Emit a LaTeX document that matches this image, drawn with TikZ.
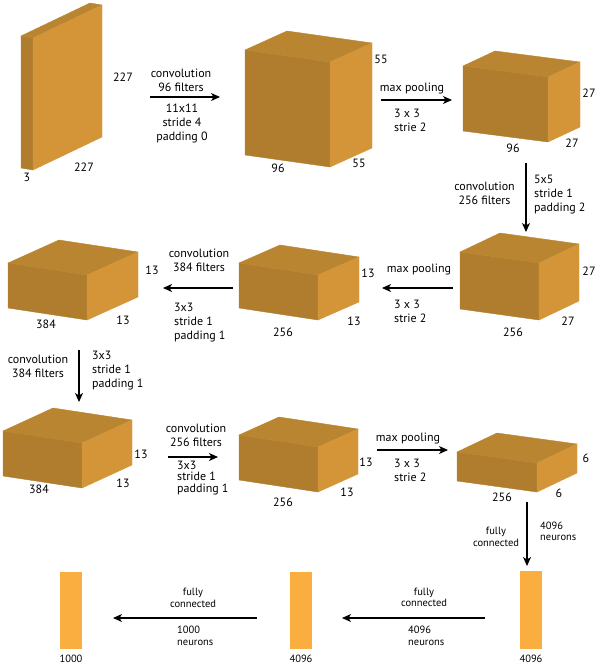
\documentclass[tikz,border=0pt]{standalone}
\usepackage{fontspec}
\setmainfont{PT Sans}
\usetikzlibrary{arrows.meta}

\definecolor{boxfront}{RGB}{176,125,46}
\definecolor{boxtop}{RGB}{185,133,48}
\definecolor{boxside}{RGB}{212,149,57}
\definecolor{fcbar}{RGB}{250,174,64}

\tikzset{
  facefront/.style={fill=boxfront, draw=boxfront, line width=0.4pt},
  facetop/.style={fill=boxtop, draw=boxtop, line width=0.4pt},
  faceside/.style={fill=boxside, draw=boxside, line width=0.4pt},
  fcfill/.style={fill=fcbar},
  lbl/.style={inner sep=0pt, font=\fontsize{12}{14}\selectfont},
  lbltight/.style={inner sep=0pt, font=\fontsize{12}{11.5}\selectfont},
  fclbl/.style={inner sep=0pt, font=\fontsize{10.5}{11.5}\selectfont},
  flow/.style={line width=1.1pt, -{Stealth[length=9pt,width=8pt,inset=2.5pt]}}
}

\begin{document}
\begin{tikzpicture}[x=1pt,y=-1pt]
  \useasboundingbox (0,0) rectangle (600,667);

  %%%%%%%%%%%%%The input%%%%%%%%%%%%%%%%%%%%%%
  \fill[facefront] (21,36) -- ++(12,2) -- ++(0,132) -- ++(-12,-2) -- cycle;
  \fill[facetop] (21,36) -- ++(69,-33) -- ++(12,2) -- ++(-69,33) -- cycle;
  \fill[faceside] (33,38) -- ++(69,-33) -- ++(0,132) -- ++(-69,33) -- cycle;
  \node[lbl] (inh) at (123,77) {227};
  \node[lbl] (inw) at (84,167) {227};
  \node[lbl] (ind) at (27,177) {3};

  \coordinate (conva) at (150,97);
  \coordinate (convb) at (220,97);
  \draw[flow] (conva) -- (convb);
  \node[lbl,align=center] (conv1t) at (181,80.5) {convolution\\96 filters};
  \node[lbl,align=center] (conv1b) at (182,123) {11x11\\stride 4\\padding 0};

  %%%%%%%%%%%%%Conv 1%%%%%%%%%%%%%%%%%%%%%%
  \fill[facefront] (245,50) -- ++(85,12) -- ++(0,105) -- ++(-85,-12) -- cycle;
  \fill[facetop] (245,50) -- ++(42,-19) -- ++(85,12) -- ++(-42,19) -- cycle;
  \fill[faceside] (330,62) -- ++(42,-19) -- ++(0,105) -- ++(-42,19) -- cycle;
  \node[lbl] (c1h) at (381,59) {55};
  \node[lbl] (c1w) at (359,163) {55};
  \node[lbl] (c1d) at (278,168) {96};

  \coordinate (poola) at (381,100);
  \coordinate (poolb) at (452,100);
  \draw[flow] (poola) -- (poolb);
  \node[lbl] (pool1t) at (412,89) {max pooling};
  \node[lbl,align=left,anchor=west] (pool1b) at (394,120) {3 x 3\\strie 2};

  %%%%%%%%%%%%%Pool 1%%%%%%%%%%%%%%%%%%%%%%
  \fill[facefront] (463,66) -- ++(85,11) -- ++(0,65) -- ++(-85,-11) -- cycle;
  \fill[facetop] (463,66) -- ++(32,-15) -- ++(85,11) -- ++(-32,15) -- cycle;
  \fill[faceside] (548,77) -- ++(32,-15) -- ++(0,65) -- ++(-32,15) -- cycle;
  \node[lbl] (p1h) at (589,93) {27};
  \node[lbl] (p1w) at (572,143) {27};
  \node[lbl] (p1d) at (513,148) {96};

  \coordinate (convc) at (526,163);
  \coordinate (convd) at (526,232);
  \draw[flow] (convc) -- (convd);
  \node[lbl,align=center] (conv2l) at (484.5,193) {convolution\\256 filters};
  \node[lbl,align=left,anchor=west] (conv2r) at (534,194.5) {5x5\\stride 1\\padding 2};

  %%%%%%%%%%%%%Conv 2%%%%%%%%%%%%%%%%%%%%%%
  \fill[facefront] (460,252) -- ++(79,11) -- ++(0,57) -- ++(-79,-11) -- cycle;
  \fill[facetop] (460,252) -- ++(40,-19) -- ++(79,11) -- ++(-40,19) -- cycle;
  \fill[faceside] (539,263) -- ++(40,-19) -- ++(0,57) -- ++(-40,19) -- cycle;
  \node[lbl] (c2h) at (589,271) {27};
  \node[lbl] (c2w) at (568,321) {27};
  \node[lbl] (c2d) at (513,332) {256};

  \coordinate (poolc) at (453,288);
  \coordinate (poold) at (382,288);
  \draw[flow] (poolc) -- (poold);
  \node[lbl] (pool2t) at (419,270) {max pooling};
  \node[lbl,align=left,anchor=west] (pool2b) at (394,311) {3 x 3\\strie 2};

  %%%%%%%%%%%%%Pool 2%%%%%%%%%%%%%%%%%%%%%%
  \fill[facefront] (239,263) -- ++(79,12) -- ++(0,45) -- ++(-79,-12) -- cycle;
  \fill[facetop] (239,263) -- ++(41,-18) -- ++(79,12) -- ++(-41,18) -- cycle;
  \fill[faceside] (318,275) -- ++(41,-18) -- ++(0,45) -- ++(-41,18) -- cycle;
  \node[lbl] (p2h) at (368,273) {13};
  \node[lbl] (p2w) at (354,321) {13};
  \node[lbl] (p2d) at (283,332) {256};

  \coordinate (conve) at (233,288);
  \coordinate (convf) at (163,288);
  \draw[flow] (conve) -- (convf);
  \node[lbl,align=center] (conv3t) at (199,260.5) {convolution\\384 filters};
  \node[lbl,align=left,anchor=west] (conv3b) at (174,323) {3x3\\stride 1\\padding 1};

  %%%%%%%%%%%%%Conv 3%%%%%%%%%%%%%%%%%%%%%%
  \fill[facefront] (8,263) -- ++(79,12) -- ++(0,45) -- ++(-79,-12) -- cycle;
  \fill[facetop] (8,263) -- ++(51,-23) -- ++(79,12) -- ++(-51,23) -- cycle;
  \fill[faceside] (87,275) -- ++(51,-23) -- ++(0,45) -- ++(-51,23) -- cycle;
  \node[lbl] (c3h) at (152,270) {13};
  \node[lbl] (c3w) at (123,320) {13};
  \node[lbl] (c3d) at (46,324) {384};

  \coordinate (convg) at (79,350);
  \coordinate (convh) at (79,402);
  \draw[flow] (convg) -- (convh);
  \node[lbl,align=center] (conv4l) at (38,366.5) {convolution\\384 filters};
  \node[lbl,align=left,anchor=west] (conv4r) at (92,370.5) {3x3\\stride 1\\padding 1};

  %%%%%%%%%%%%%Conv 4%%%%%%%%%%%%%%%%%%%%%%
  \fill[facefront] (3,431) -- ++(79,12) -- ++(0,45) -- ++(-79,-12) -- cycle;
  \fill[facetop] (3,431) -- ++(50,-23) -- ++(79,12) -- ++(-50,23) -- cycle;
  \fill[faceside] (82,443) -- ++(50,-23) -- ++(0,45) -- ++(-50,23) -- cycle;
  \node[lbl] (c4h) at (141,454) {13};
  \node[lbl] (c4w) at (123,483) {13};
  \node[lbl] (c4d) at (39,489) {384};

  \coordinate (convi) at (168,457);
  \coordinate (convj) at (218,457);
  \draw[flow] (convi) -- (convj);
  \node[lbl,align=center] (conv5t) at (196,435) {convolution\\256 filters};
  \node[lbltight,align=left,anchor=west] (conv5b) at (177,478) {3x3\\stride 1\\padding 1};

  %%%%%%%%%%%%%Conv 5%%%%%%%%%%%%%%%%%%%%%%
  \fill[facefront] (239,435) -- ++(79,12) -- ++(0,45) -- ++(-79,-12) -- cycle;
  \fill[facetop] (239,435) -- ++(40,-18) -- ++(79,12) -- ++(-40,18) -- cycle;
  \fill[faceside] (318,447) -- ++(40,-18) -- ++(0,45) -- ++(-40,18) -- cycle;
  \node[lbl] (c5h) at (366,462) {13};
  \node[lbl] (c5w) at (347,492) {13};
  \node[lbl] (c5d) at (283,502) {256};

  \coordinate (poole) at (377,450);
  \coordinate (poolf) at (448,450);
  \draw[flow] (poole) -- (poolf);
  \node[lbl] (pool3t) at (408,439) {max pooling};
  \node[lbl,align=left,anchor=west] (pool3b) at (394,470) {3 x 3\\strie 2};

  %%%%%%%%%%%%%Pool 3%%%%%%%%%%%%%%%%%%%%%%
  \fill[facefront] (457,452) -- ++(80,11) -- ++(0,29) -- ++(-80,-11) -- cycle;
  \fill[facetop] (457,452) -- ++(40,-19) -- ++(80,11) -- ++(-40,19) -- cycle;
  \fill[faceside] (537,463) -- ++(40,-19) -- ++(0,29) -- ++(-40,19) -- cycle;
  \node[lbl] (p3h) at (586,458) {6};
  \node[lbl] (p3w) at (559,493) {6};
  \node[lbl] (p3d) at (502,497) {256};

  \coordinate (fca) at (527,502);
  \coordinate (fcb) at (527,566);
  \draw[flow] (fca) -- (fcb);
  \node[fclbl,align=center] (fc1l) at (496,537) {fully\\connected};
  \node[fclbl,align=left,anchor=west] (fc1r) at (540,531.5) {4096\\neurons};

  %%%%%%%%%%%%%Fully connected%%%%%%%%%%%%%%%%%%%%%%
  \fill[fcfill] (520,571) rectangle (542,649);
  \fill[fcfill] (290,572) rectangle (312,649);
  \fill[fcfill] (60,572) rectangle (82,649);
  \node[fclbl] (fc6) at (531,659) {4096};
  \node[fclbl] (fc7) at (301,659) {4096};
  \node[fclbl] (fc8) at (71,659) {1000};

  \coordinate (fcc) at (485,618);
  \coordinate (fcd) at (342,618);
  \draw[flow] (fcc) -- (fcd);
  \node[fclbl,align=center] (fc2t) at (424,597.5) {fully\\connected};
  \node[fclbl,align=left,anchor=west] (fc2b) at (408,636) {4096\\neurons};

  \coordinate (fce) at (257,618);
  \coordinate (fcf) at (113,618);
  \draw[flow] (fce) -- (fcf);
  \node[fclbl,align=center] (fc3t) at (193,598) {fully\\connected};
  \node[fclbl,align=left,anchor=west] (fc3b) at (177,636) {1000\\neurons};
\end{tikzpicture}
\end{document}
